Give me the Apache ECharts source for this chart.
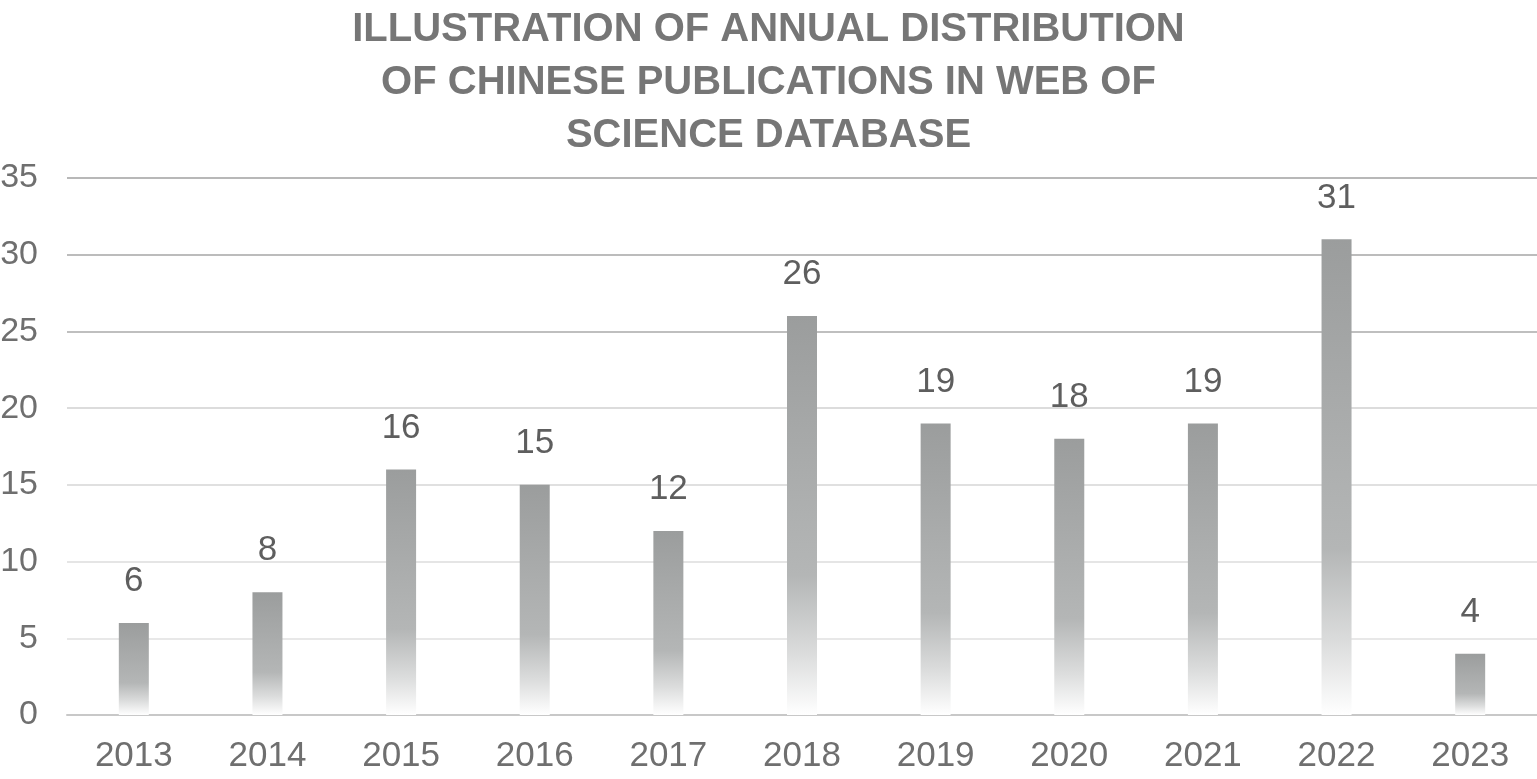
<!DOCTYPE html>
<html>
<head>
<meta charset="utf-8">
<title>Annual distribution of Chinese publications</title>
<script src="https://cdn.jsdelivr.net/npm/echarts@6/dist/echarts.min.js"></script>
<style>
  html, body { margin: 0; padding: 0; background: #fff; }
  #chart { width: 1537px; height: 779px; }
</style>
</head>
<body>
<div id="chart"></div>
<script>
// data
var years = ["2013", "2014", "2015", "2016", "2017", "2018", "2019", "2020", "2021", "2022", "2023"];
var counts = [6, 8, 16, 15, 12, 26, 19, 18, 19, 31, 4];
var yMax = 35;
var yStep = 5;

(function () {
  var myChart = echarts.init(document.getElementById('chart'));
  var font = '"Liberation Sans", Arial, sans-serif';

  // bar fill: grey on top, fading to white at the base
  var barFill = new echarts.graphic.LinearGradient(0, 0, 0, 1, [
    { offset: 0, color: '#9b9d9d' },
    { offset: 0.65, color: '#b4b6b6' },
    { offset: 0.85, color: '#dcdddd' },
    { offset: 1, color: '#ffffff' }
  ]);

  var option = {
    animation: false,
    title: {
      text: 'ILLUSTRATION OF ANNUAL DISTRIBUTION\nOF CHINESE PUBLICATIONS IN WEB OF\nSCIENCE DATABASE',
      left: 'center',
      top: -2,
      textStyle: {
        fontFamily: font,
        fontWeight: 'bold',
        fontSize: 40,
        lineHeight: 53,
        color: '#767676'
      }
    },
    grid: {
      left: 67,
      right: 0,
      top: 178,
      bottom: 64,
      outerBoundsMode: 'none'
    },
    xAxis: {
      type: 'category',
      data: years,
      axisTick: { show: false },
      axisLine: {
        lineStyle: { color: '#c8c8c8', width: 2 }
      },
      axisLabel: {
        margin: 24,
        fontFamily: font,
        fontSize: 35,
        color: '#6f6f6f'
      }
    },
    yAxis: {
      type: 'value',
      min: 0,
      max: yMax,
      interval: yStep,
      axisLine: { show: false },
      axisTick: { show: false },
      axisLabel: {
        margin: 29,
        fontFamily: font,
        fontSize: 34,
        color: '#6f6f6f'
      },
      splitLine: {
        lineStyle: {
          // lines get darker towards the top, as in the picture
          color: ['#c8c8c8', '#e8e8e8', '#e5e5e5', '#e0e0e0', '#dcdcdc', '#bfbfbf', '#bcbcbc', '#b8b8b8'],
          width: 2
        }
      }
    },
    series: [
      {
        name: 'Publications',
        type: 'bar',
        data: counts,
        barWidth: 30,
        itemStyle: { color: barFill },
        label: {
          show: true,
          position: 'top',
          distance: 24,
          fontFamily: font,
          fontSize: 35,
          color: '#5e5e5e'
        }
      }
    ]
  };

  myChart.setOption(option);
  window.addEventListener('resize', function () {
    myChart.resize();
  });
})();
</script>
</body>
</html>
